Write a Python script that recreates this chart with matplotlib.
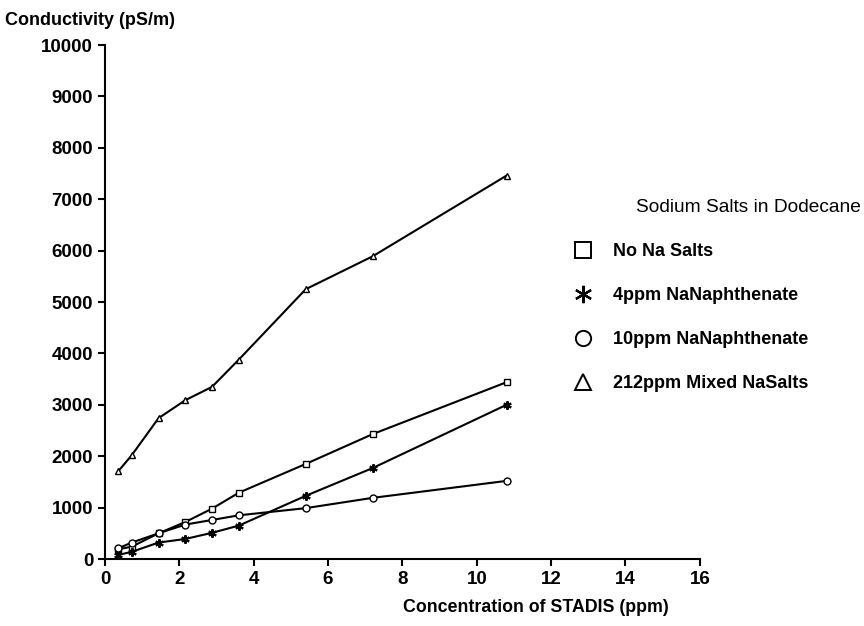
import matplotlib.pyplot as plt
from matplotlib.lines import Line2D

plt.rcParams['font.family'] = ['Liberation Sans', 'DejaVu Sans']
plt.rcParams['font.weight'] = 'bold'

# STADIS concentration (ppm)
stadis = [0.36, 0.72, 1.44, 2.16, 2.88, 3.6, 5.4, 7.2, 10.8]

# conductivity (pS/m)
no_na = [190, 240, 500, 720, 980, 1290, 1850, 2430, 3440]
na4 = [80, 140, 320, 390, 510, 650, 1230, 1770, 3000]
na10 = [210, 320, 500, 670, 760, 850, 990, 1190, 1520]
mixed212 = [1710, 2020, 2740, 3090, 3350, 3880, 5250, 5890, 7460]

labels = ['No Na Salts', '4ppm NaNaphthenate', '10ppm NaNaphthenate',
          '212ppm Mixed NaSalts']
star = (6, 2, 0)

fig = plt.figure(figsize=(8.64, 6.26), dpi=100)
ax = fig.add_axes([0.1215, 0.107, 0.6885, 0.821])

ax.plot(stadis, no_na, 'k-', marker='s', mfc='white', ms=5, lw=1.5)
ax.plot(stadis, na4, 'k-', marker=star, ms=6, mew=1.5, lw=1.5)
ax.plot(stadis, na10, 'k-', marker='o', mfc='white', ms=5, lw=1.5)
ax.plot(stadis, mixed212, 'k-', marker='^', mfc='white', ms=5, lw=1.5)

ax.set_xlim(0, 16)
ax.set_ylim(0, 10000)
ax.set_xticks(range(0, 17, 2))
ax.set_yticks(range(0, 10001, 1000))
ax.spines['top'].set_visible(False)
ax.spines['right'].set_visible(False)
ax.spines['left'].set_linewidth(1.5)
ax.spines['bottom'].set_linewidth(1.5)
ax.tick_params(direction='out', length=5, width=1.5, labelsize=13.5)

fig.text(0.006, 0.968, 'Conductivity (pS/m)', fontsize=13, ha='left', va='center')
fig.text(0.62, 0.03, 'Concentration of STADIS (ppm)', fontsize=12.8,
         ha='center', va='center')

handles = [
    Line2D([], [], ls='none', marker='s', mfc='white', mec='k', ms=11.5, mew=1.4),
    Line2D([], [], ls='none', marker=star, mec='k', ms=12.5, mew=1.6),
    Line2D([], [], ls='none', marker='o', mfc='white', mec='k', ms=11, mew=1.4),
    Line2D([], [], ls='none', marker='^', mfc='white', mec='k', ms=11, mew=1.4),
]
fig.text(0.996, 0.669, 'Sodium Salts in Dodecane', fontsize=13.8,
         ha='right', va='center', fontweight='normal')
fig.legend(handles, labels, loc='upper left', bbox_to_anchor=(0.652, 0.626),
           frameon=False, fontsize=13, handlelength=1.2, handletextpad=1.05,
           labelspacing=1.5, borderpad=0)

fig.savefig('out.png')
